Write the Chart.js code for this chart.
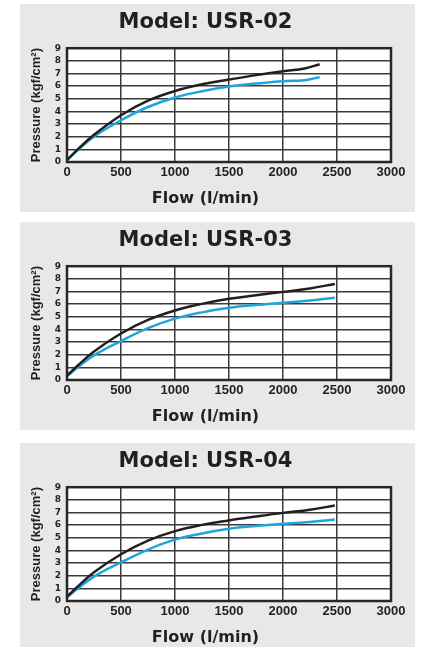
<!DOCTYPE html>
<html>
<head>
<meta charset="utf-8">
<script src="https://cdn.jsdelivr.net/npm/chart.js@4/dist/chart.umd.min.js"></script>
<style>
  body { margin: 0; background: #fff; overflow: hidden; width: 427px; height: 647px; position: relative; }
  .panel { position: absolute; left: 20px; width: 395px; height: 208px; background: #e8e8e8; }
</style>
</head>
<body>
<div class="panel" style="top:4px"><canvas id="chart02" width="395" height="208"></canvas></div>
<div class="panel" style="top:222px"><canvas id="chart03" width="395" height="208"></canvas></div>
<div class="panel" style="top:443px"><canvas id="chart04" width="395" height="208"></canvas></div>
<script>
// tick labels / axis ranges
const flowTicks = [0, 500, 1000, 1500, 2000, 2500, 3000];
const pressureTicks = [0, 1, 2, 3, 4, 5, 6, 7, 8, 9];

// USR-02
const flow02 = [0, 100, 250, 500, 750, 1000, 1250, 1500, 1750, 2000, 2200, 2340];
const black02 = [0.15, 1.0, 2.15, 3.7, 4.85, 5.62, 6.15, 6.52, 6.87, 7.18, 7.4, 7.73];
const blue02 = [0.15, 0.95, 2.0, 3.3, 4.35, 5.1, 5.6, 5.97, 6.2, 6.39, 6.47, 6.71];

// USR-03
const flow03 = [0, 100, 250, 500, 750, 1000, 1250, 1500, 1750, 2000, 2250, 2480];
const black03 = [0.35, 1.15, 2.25, 3.68, 4.75, 5.5, 6.02, 6.42, 6.7, 6.97, 7.24, 7.6];
const blue03 = [0.3, 1.0, 1.95, 3.08, 4.1, 4.85, 5.35, 5.71, 5.93, 6.1, 6.29, 6.5];

// USR-04
const flow04 = [0, 100, 250, 500, 750, 1000, 1250, 1500, 1750, 2000, 2250, 2480];
const black04 = [0.35, 1.15, 2.27, 3.7, 4.78, 5.53, 6.02, 6.37, 6.68, 6.97, 7.22, 7.55];
const blue04 = [0.3, 0.98, 1.93, 3.05, 4.07, 4.85, 5.34, 5.71, 5.93, 6.1, 6.25, 6.44];

Chart.defaults.font.family = "'Liberation Sans', Arial, sans-serif";
Chart.defaults.font.weight = "bold";
Chart.defaults.color = "#231f20";

function points(xs, ys) {
  return xs.map((x, i) => ({ x: x, y: ys[i] }));
}

const plotFrame = {
  id: "plotFrame",
  beforeDraw(chart) {
    const a = chart.chartArea;
    const ctx = chart.ctx;
    ctx.save();
    ctx.fillStyle = "#ffffff";
    ctx.fillRect(a.left, a.top, a.right - a.left, a.bottom - a.top);
    ctx.restore();
  },
  afterDraw(chart) {
    const a = chart.chartArea;
    const ctx = chart.ctx;
    ctx.save();
    ctx.strokeStyle = "#2a2526";
    ctx.lineWidth = 2.5;
    ctx.strokeRect(a.left, a.top, a.right - a.left, a.bottom - a.top);
    ctx.restore();
  },
};

function makeChart(id, title, flow, black, blue) {
  return new Chart(document.getElementById(id), {
    type: "line",
    data: {
      datasets: [
        {
          data: points(flow, black),
          borderColor: "#231f20",
          borderWidth: 2.5,
          pointRadius: 0,
          tension: 0.4,
        },
        {
          data: points(flow, blue),
          borderColor: "#1ea5e0",
          borderWidth: 2.5,
          pointRadius: 0,
          tension: 0.4,
        },
      ],
    },
    options: {
      responsive: false,
      animation: false,
      layout: { padding: { left: 0, right: 24, top: 0, bottom: 0 } },
      plugins: {
        legend: { display: false },
        tooltip: { enabled: false },
        title: {
          display: true,
          text: title,
          color: "#231f20",
          font: { family: "'DejaVu Sans', sans-serif", size: 21, weight: "bold" },
          padding: { top: 6, bottom: 13 },
        },
        // x axis title, centred on the whole panel like the reference
        subtitle: {
          display: true,
          position: "bottom",
          text: "Flow (l/min)",
          color: "#231f20",
          font: { family: "'DejaVu Sans', sans-serif", size: 16, weight: "bold" },
          padding: { top: 0, bottom: 4 },
        },
      },
      scales: {
        x: {
          type: "linear",
          min: flowTicks[0],
          max: flowTicks[flowTicks.length - 1],
          afterBuildTicks: (scale) => {
            scale.ticks = flowTicks.map((v) => ({ value: v }));
          },
          afterFit: (scale) => {
            scale.height = 26.8;
          },
          grid: { color: "#3d3839", lineWidth: 1.5, drawTicks: false },
          border: { display: false },
          ticks: {
            padding: 3,
            maxRotation: 0,
            autoSkip: false,
            font: { size: 13, weight: "bold" },
            callback: (v) => String(v),
          },
        },
        y: {
          min: pressureTicks[0],
          max: pressureTicks[pressureTicks.length - 1],
          afterBuildTicks: (scale) => {
            scale.ticks = pressureTicks.map((v) => ({ value: v }));
          },
          afterFit: (scale) => {
            scale.width = 47;
          },
          grid: { color: "#3d3839", lineWidth: 1.5, drawTicks: false },
          border: { display: false },
          ticks: {
            padding: 6,
            autoSkip: false,
            font: { family: "'DejaVu Sans', sans-serif", size: 9, weight: "bold" },
            callback: (v) => String(v),
          },
          title: {
            display: true,
            text: "Pressure (kgf/cm²)",
            font: { size: 13, weight: "bold" },
            padding: { top: 9, bottom: 0 },
          },
        },
      },
    },
    plugins: [plotFrame],
  });
}

makeChart("chart02", "Model: USR-02", flow02, black02, blue02);
makeChart("chart03", "Model: USR-03", flow03, black03, blue03);
makeChart("chart04", "Model: USR-04", flow04, black04, blue04);
</script>
</body>
</html>
